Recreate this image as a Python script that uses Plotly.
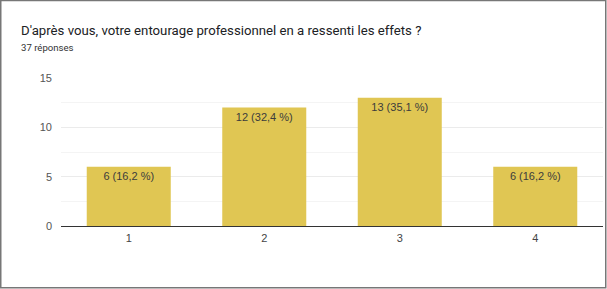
import plotly.graph_objects as go

categories = ["1", "2", "3", "4"]
counts = [6, 12, 13, 6]
labels = ["6 (16,2 %)", "12 (32,4 %)", "13 (35,1 %)", "6 (16,2 %)"]
title = "D'après vous, votre entourage professionnel en a ressenti les effets ?"
subtitle = "37 réponses"

W, H = 607, 289
L, R, T, B = 61, 4, 78, 63
pw, ph = W - L - R, H - T - B

def px(x):
    return (x - L) / pw

def py(y):
    return (H - B - y) / ph

fig = go.Figure(go.Bar(
    x=categories, y=counts, text=labels,
    textposition="inside", insidetextanchor="end",
    textangle=0,
    textfont=dict(family="Liberation Sans, Arial", size=11, color="#3c3c3c"),
    marker=dict(color="#e0c653", line=dict(width=0)),
    width=0.62,
    cliponaxis=False,
))

fig.update_layout(
    width=W, height=H,
    margin=dict(l=L, r=R, t=T, b=B),
    paper_bgcolor="white", plot_bgcolor="white",
    showlegend=False,
    font=dict(family="Liberation Sans, Arial", color="#444"),
    xaxis=dict(showgrid=False, showline=True, linecolor="#333", linewidth=1,
               ticks="", tickfont=dict(size=11, color="#444"), ticklabelstandoff=2),
    yaxis=dict(range=[0, 15], tickvals=[0, 5, 10, 15], showgrid=True,
               gridcolor="#ebebeb", gridwidth=1, zeroline=False, showline=False,
               tickfont=dict(size=11, color="#555"), ticklabelstandoff=8,
               minor=dict(tickvals=[2.5, 7.5, 12.5], showgrid=True, gridcolor="#f4f4f4", gridwidth=1)),
    uniformtext=dict(minsize=8, mode="show"),
)

fig.add_annotation(text=title, xref="paper", yref="paper", x=px(19), y=py(30),
                   xanchor="left", yanchor="middle", showarrow=False,
                   font=dict(family="Roboto, Arial", size=13.2, color="#202124"))
fig.add_annotation(text=subtitle, xref="paper", yref="paper", x=px(19), y=py(47),
                   xanchor="left", yanchor="middle", showarrow=False,
                   font=dict(family="Roboto, Arial", size=9.6, color="#333"))

fig.add_shape(type="rect", xref="paper", yref="paper",
              x0=px(0.75), x1=px(605.75), y0=py(287.75), y1=py(0.5),
              line=dict(color="#777", width=1.5), fillcolor="rgba(0,0,0,0)", layer="above")

fig.write_html("out.html")
